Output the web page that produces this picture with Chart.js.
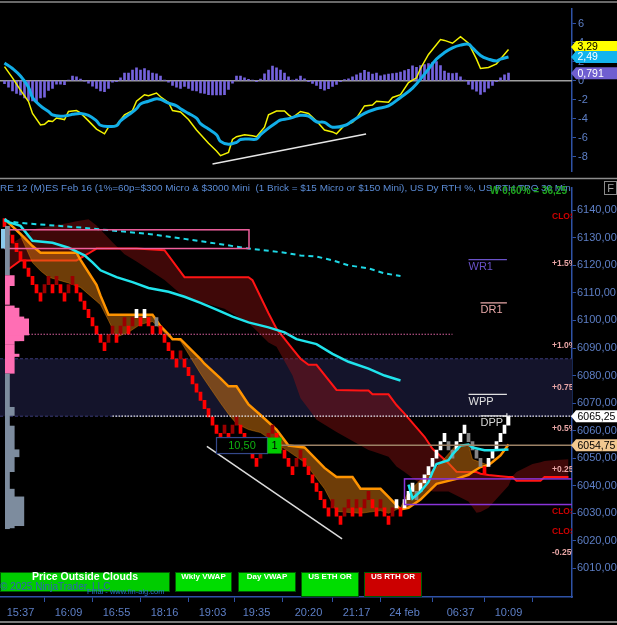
<!DOCTYPE html>
<html>
<head>
<meta charset="utf-8">
<script src="https://cdn.jsdelivr.net/npm/chart.js@4.4.0/dist/chart.umd.min.js"></script>
<style>
  html, body { margin: 0; padding: 0; background: #000; }
  #wrap { position: relative; width: 617px; height: 625px; background: #000; overflow: hidden; }
  canvas { position: absolute; left: 0; }
  #top { top: 0; }
  #bot { top: 180px; }
</style>
</head>
<body>
<div id="wrap">
  <canvas id="top" width="617" height="180"></canvas>
  <canvas id="bot" width="617" height="445"></canvas>
</div>
<script>
// ---- time axis ----
const xTickIdx = [4, 16, 28, 40, 52, 63, 76, 88, 100, 114, 126];
const xTickLabels = ['15:37', '16:09', '16:55', '18:16', '19:03', '19:35', '20:20', '21:17', '24 feb', '06:37', '10:09'];

// ---- oscillator panel ----
const macdIdx = [0,2,4,6,7,9,10,11,12,13,15,16,18,19,21,23,25,26,28,30,32,33,35,36,38,39,41,42,44,46,48,51,53,54,56,57,58,60,62,63,65,66,68,70,71,72,74,76,78,80,82,83,85,87,88,90,92,93,96,97,99,101,103,104,106,109,110,112,114,116,118,119,121,123,124,126];
const macdVal = [1.48,0.3,-1.0,-2.2,-3.45,-4.67,-4.6,-4.24,-4.3,-3.94,-4.1,-3.25,-3.15,-3.4,-4.24,-5.1,-5.6,-4.9,-4.7,-3.6,-3.15,-2.17,-1.48,-1.58,-1.3,-1.7,-2.3,-3.15,-3.3,-4.1,-5.2,-6.6,-7.4,-7.9,-7.55,-6.2,-5.9,-5.7,-5.8,-5.9,-4.9,-3.6,-3.2,-3.2,-3.6,-3.9,-3.25,-3.45,-4.24,-5.2,-5.4,-5.6,-4.7,-4.4,-3.94,-2.66,-2.56,-2.17,-2.27,-1.77,-1.48,-0.2,0.3,1.28,2.76,4.33,4.24,3.94,4.63,3.94,2.27,1.28,1.38,1.77,2.27,3.29];
const sigIdx = [0,2,4,6,7,9,11,12,14,16,17,19,21,23,24,26,28,29,31,33,34,36,38,39,41,43,44,46,48,49,51,53,54,56,58,59,61,63,64,66,68,69,71,73,74,76,78,80,82,85,87,90,93,96,99,102,105,108,110,112,114,116,117,119,121,123,124,126];
const sigVal = [1.87,1.28,0.49,-0.69,-1.77,-2.66,-3.25,-3.6,-3.74,-3.65,-3.55,-3.45,-3.65,-4.24,-4.7,-4.83,-4.75,-4.24,-3.6,-2.96,-2.46,-2.17,-1.9,-1.97,-2.36,-2.66,-2.96,-3.45,-3.94,-4.53,-5.1,-5.7,-6.4,-6.7,-6.5,-6.2,-6.15,-6.15,-5.7,-5.0,-4.4,-4.15,-4.0,-3.74,-3.65,-3.74,-4.33,-4.4,-4.9,-4.73,-4.24,-3.45,-2.96,-2.66,-1.77,-0.79,0.69,2.27,2.96,3.45,3.74,3.84,3.45,2.66,2.27,2.07,2.27,2.49];
const histVal = [
  -0.33,-0.69,-1.08,-1.35,-1.51,-1.81,-2.07,-2.13,-2.23,-1.81,
  -1.74,-1.02,-0.82,-0.36,-0.36,-0.43,0.05,0.49,0.39,0.16,
  -0.05,-0.26,-0.59,-0.82,-1.08,-1.15,-0.82,-0.16,-0.1,0.3,
  0.79,0.79,1.12,1.35,1.12,1.28,1.05,0.79,0.72,0.49,
  0.02,-0.16,-0.49,-0.69,-0.82,-0.62,-0.82,-1.02,-1.08,-1.28,
  -1.35,-1.48,-1.51,-1.51,-1.51,-1.48,-0.92,-0.26,0.49,0.49,
  0.3,0.13,0.07,-0.1,0.16,0.72,1.12,1.54,1.35,1.12,
  0.79,0.39,0.03,0.16,0.49,0.2,-0.1,-0.3,-0.5,-0.85,
  -1.0,-0.85,-0.6,-0.4,-0.1,0.1,0.2,0.4,0.6,0.8,
  1.1,0.9,0.7,0.8,0.5,0.6,0.7,0.75,0.8,0.9,
  1.05,1.2,1.55,1.4,1.6,1.7,1.8,1.9,2.0,1.6,
  1.0,0.8,0.75,0.8,0.4,0.02,-0.4,-0.9,-1.1,-1.45,
  -1.2,-0.8,-0.5,-0.1,0.3,0.6,0.791
];
const oscTrendIdx = [52, 90.4];
const oscTrendVal = [-8.77, -5.62];
const oscTicks = [-8, -6, -4, -2, 0, 2, 4, 6];

// ---- price panel ----
const BRICK = 3;
const brickLow = [
  6134,6131,6128,6125,6122,6119,6116,6113,6110,6107,
  6110,6113,6110,6113,6110,6107,6110,6113,6110,6107,
  6104,6101,6098,6095,6092,6089,6092,6095,6092,6095,
  6098,6095,6098,6101,6098,6101,6098,6095,6098,6095,
  6092,6089,6086,6083,6086,6083,6080,6077,6074,6071,
  6068,6065,6062,6059,6056,6059,6056,6059,6062,6059,
  6056,6053,6050,6047,6050,6053,6056,6059,6056,6053,
  6050,6047,6044,6047,6050,6047,6044,6041,6038,6035,
  6032,6029,6032,6029,6026,6029,6032,6029,6032,6029,
  6032,6035,6032,6029,6032,6029,6026,6029,6032,6029,
  6032,6035,6038,6035,6038,6041,6044,6047,6050,6053,
  6056,6053,6050,6053,6056,6059,6056,6053,6050,6047,
  6044,6047,6050,6053,6056,6059,6062
];
// D = down, u = up in downtrend, W = up in uptrend, g = down in uptrend
const brickKind =
  'DDDDDDDDDD' + 'uuDuDDuuDD' + 'DDDDDDuuDu' + 'uDuWDWDDgD' +
  'DDDDuDDDDD' + 'DDDDDuDuuD' + 'DDDDuuuuDD' + 'DDDuuDDDDD' +
  'DDuDDuuDuD' + 'uuDDuDDuWD' + 'WWWgWWWWWW' + 'WggWWWgggg' + 'DWWWWWW';

const cloudIdx = [0,4,7,9,11,16,18,19,23,24,26,28,31,34,37,39,41,42,44,49,50,54,56,58,61,64,68,71,75,80,83,87,89,94,96,99,101,104,108,113,116,117,119,121,122,124,126];
const cloudSlow = [6136.8,6131.4,6127,6124.6,6124.6,6124.6,6124.6,6122,6112.9,6109,6102.1,6102.1,6102.1,6102.1,6102.1,6097.9,6095,6093.2,6093.2,6086,6084.3,6079,6076.1,6076.1,6069.5,6065.7,6060.4,6054.6,6053.9,6046.5,6043.2,6043.2,6038.9,6038.9,6036,6031.4,6032,6035,6040.7,6042.5,6044,6045,6046.8,6047.5,6048.6,6051,6055];
const cloudFast = [6136.8,6130.7,6121,6118,6115.7,6113.6,6112.5,6112,6107,6105.7,6100,6094,6095.7,6098.6,6099.6,6097,6094,6093.5,6092.5,6080.7,6078.5,6070,6066,6062.5,6060.4,6059.3,6055.3,6052.5,6048.5,6038.9,6030.7,6030.2,6030,6031,6030,6032,6037.9,6042.1,6046.5,6055,6055,6049.6,6048.5,6047.5,6048.5,6051.1,6055];

const redIdx = [1,4,8,16,18,21,23,27,30,33,40,45,50,55,61,62,66,68,72,74,76,78,83,89,91,92,96,98,100,105,107,111,113,116,118,119,121,124,126,127,128,132,134,135,137,141];
const redLine = [6118.6,6121.8,6121.8,6121.8,6121.8,6124.3,6126.1,6126.1,6126.1,6126.1,6125.5,6115.7,6115.7,6115.7,6115.7,6114.6,6102.6,6097,6089.7,6086.1,6083.9,6083.9,6074.8,6074.6,6074.6,6073.2,6073.2,6069.3,6066.2,6057.8,6053.4,6048.2,6045.1,6045,6045,6044.4,6043.9,6043.5,6043.2,6043.2,6041.8,6041.8,6041.8,6043.2,6043.2,6043.2];
const redSpan = [6127,6130,6133.4,6135.4,6136,6136.7,6134.5,6128.4,6124,6121.4,6114.7,6108.4,6106.3,6104.2,6099,6097.7,6092,6090.5,6080,6071.8,6068,6064,6059.5,6054.6,6053,6052.5,6050.5,6047,6045,6039.6,6037.9,6037.9,6036.5,6034.3,6030.2,6030.5,6032,6036.8,6040,6043.5,6045,6047.9,6048.5,6049,6049.3,6049.6];

const vwapIdx = [0,1,4,7,12,16,20,22,24,28,32,36,41,45,49,53,57,61,66,70,73,78,82,86,91,95,99];
const vwapVal = [6136.8,6135.7,6134.3,6128.9,6128.2,6126.4,6123.6,6121.1,6118.2,6115.7,6113.9,6111.8,6110.4,6108.6,6106.4,6103.9,6101.4,6099.3,6097.5,6095.7,6093.2,6091.4,6087.9,6085,6082.5,6080,6078.2];
const wvwapIdx = [0,4,11,20,28,36,45,53,61,70,74,78,82,86,91,95,99];
const wvwapVal = [6136.1,6135.4,6134.6,6133.6,6132.5,6131.4,6129.6,6127.9,6126.1,6124.6,6123.6,6123.2,6121.8,6120,6118.9,6117.1,6116.1];
const dvwapIdx = [101,102,104,106,107,108,111,112,114,116,117,120,122,126];
const dvwapVal = [6040.4,6035.4,6037.9,6041.4,6045,6047.9,6049.3,6051.4,6054.6,6055,6053.9,6052.9,6052.9,6053.2];

const trendIdx = [50.6, 84.4];
const trendVal = [6054.3, 6020.7];

const priceTicks = [6010,6020,6030,6040,6050,6060,6070,6080,6090,6100,6110,6120,6130,6140];
const lastPrice = 6065.25;
const tanPrice = 6054.75;
const bandZone = [6065.25, 6086.1];
const pinkZone = [6126.1, 6132.9];
const pinkZoneBars = [0, 61];
const purpleZone = [6033.2, 6042.5];
const purpleZoneFrom = 100;
const pinkDotPrice = 6095;
const pinkDotBars = [6, 112];

const pivotNames = ['WR1', 'DR1', 'WPP', 'DPP'];
const pivotPrices = [6122.1, 6106.4, 6073.2, 6065.4];
const levelText = ['CLOS', '+1.5%', '+1.0%', '+0.75', '+0.5%', '+0.25', 'CLOS', 'CLOS', '-0.25%'];
const levelPrice = [6137, 6120, 6090, 6075, 6060, 6045, 6030, 6022.5, 6015];

const profileTop    = [6134.3,6116.4,6112.5,6105.4,6104.6,6101.4,6100.7,6091.4,6087.9,6080.7,6068.6,6061.8,6053.2,6038.9,6036.1,6133.2];
const profileBottom = [6116.4,6112.5,6105.7,6091.4,6092.5,6092.5,6094.6,6080.7,6086.8,6024.3,6065.4,6045,6050.4,6024.6,6025.4,6126.1];
const profileCount  = [1,2,1,2,3,4,5,2,3,1,2,2,3,2,4,1];
const profileKind   = 'gppppppppggggggb';

const measureVal = '10,50';
const measureCount = '1';
const measureAt = [53, 6054.6];

// ---- styles ----
const AXIS_COL = '#2f52a6';
const TICK_COL = '#5d7fc6';
const X_MIN = -1.125, X_MAX = 141.875;
const pts = (xs, ys) => xs.map((x, i) => ({ x: x, y: ys[i] }));
const fmt = (v, d) => v.toFixed(d).replace('.', ',');

function hline(ctx, x0, x1, y) {
  ctx.beginPath(); ctx.moveTo(x0, y); ctx.lineTo(x1, y); ctx.stroke();
}

function flag(ctx, yc, text, bg, fg) {
  const hh = 6;
  ctx.beginPath();
  ctx.moveTo(571, yc); ctx.lineTo(576, yc - hh); ctx.lineTo(617, yc - hh);
  ctx.lineTo(617, yc + hh); ctx.lineTo(576, yc + hh); ctx.closePath();
  ctx.fillStyle = bg; ctx.fill();
  ctx.fillStyle = fg; ctx.font = '10.5px Arial';
  ctx.textAlign = 'left'; ctx.textBaseline = 'middle';
  ctx.fillText(text, 577.5, yc + 0.5);
}

const topDecor = {
  id: 'topDecor',
  beforeDatasetsDraw(chart) {
    const { ctx, chartArea: a, scales: { y } } = chart;
    ctx.save();
    ctx.strokeStyle = '#a0a0a0'; ctx.lineWidth = 1.5;
    hline(ctx, a.left, a.right, y.getPixelForValue(0));
    ctx.restore();
  },
  afterDraw(chart) {
    const { ctx, scales: { y } } = chart;
    ctx.save();
    ctx.strokeStyle = '#8c8c8c'; ctx.lineWidth = 1.5;
    hline(ctx, 0, 617, 2);
    hline(ctx, 0, 617, 178.5);
    const ySig = y.getPixelForValue(sigVal[sigVal.length - 1]);
    let yMacd = y.getPixelForValue(macdVal[macdVal.length - 1]);
    if (Math.abs(yMacd - ySig) < 11) yMacd = ySig - 10;
    flag(ctx, yMacd, fmt(macdVal[macdVal.length - 1], 2), '#ffff00', '#000');
    flag(ctx, ySig, fmt(sigVal[sigVal.length - 1], 2), '#12b4ee', '#fff');
    flag(ctx, y.getPixelForValue(histVal[histVal.length - 1]), fmt(histVal[histVal.length - 1], 3), '#6f5fd0', '#fff');
    ctx.restore();
  }
};

const botDecor = {
  id: 'botDecor',
  beforeDatasetsDraw(chart) {
    const { ctx, chartArea: a, scales: { y } } = chart;
    const yt = y.getPixelForValue(bandZone[1]), yb = y.getPixelForValue(bandZone[0]);
    ctx.save();
    ctx.fillStyle = '#14142b';
    ctx.fillRect(a.left, yt, a.right - a.left, yb - yt);
    ctx.strokeStyle = '#3a3a78'; ctx.lineWidth = 1; ctx.setLineDash([3, 2]);
    hline(ctx, a.left, a.right, yt);
    hline(ctx, a.left, a.right, yb);
    ctx.restore();
  },
  afterDatasetsDraw(chart) {
    const { ctx, chartArea: a, scales: { x, y } } = chart;
    const px = v => x.getPixelForValue(v), py = v => y.getPixelForValue(v);
    ctx.save();
    ctx.beginPath(); ctx.rect(a.left, a.top, a.right - a.left, a.bottom - a.top); ctx.clip();

    // pink zone box
    ctx.strokeStyle = '#f0609e'; ctx.lineWidth = 1.5;
    ctx.strokeRect(px(pinkZoneBars[0]) + 0.5, py(pinkZone[1]), px(pinkZoneBars[1]) - px(pinkZoneBars[0]), py(pinkZone[0]) - py(pinkZone[1]));
    // purple zone box
    ctx.strokeStyle = '#8a34d8';
    ctx.strokeRect(px(purpleZoneFrom), py(purpleZone[1]), a.right - px(purpleZoneFrom) + 4, py(purpleZone[0]) - py(purpleZone[1]));
    // pink dotted level
    ctx.strokeStyle = '#d8609e'; ctx.lineWidth = 1.2; ctx.setLineDash([1.5, 1.5]);
    hline(ctx, px(pinkDotBars[0]), px(pinkDotBars[1]), py(pinkDotPrice));
    // last price dotted
    ctx.strokeStyle = '#e8e8e8'; ctx.setLineDash([1.5, 1.5]);
    hline(ctx, px(27), a.right, py(lastPrice));
    ctx.setLineDash([]);
    // tan level
    ctx.strokeStyle = '#9c8266'; ctx.lineWidth = 1.5;
    hline(ctx, px(measureAt[0]), a.right, py(tanPrice));
    // current price cross
    ctx.strokeStyle = '#fff'; ctx.lineWidth = 1;
    ctx.beginPath(); ctx.moveTo(px(125.6), py(lastPrice) - 3); ctx.lineTo(px(125.6), py(lastPrice) + 9); ctx.stroke();
    hline(ctx, px(124.6), px(126.6), py(lastPrice));

    // volume profile
    profileTop.forEach((t, k) => {
      const kind = profileKind[k];
      const y1 = py(t), y2 = py(profileBottom[k]);
      ctx.fillStyle = kind === 'p' ? '#ff6eb4' : kind === 'b' ? '#8ccbee' : '#7d8c9e';
      if (kind === 'b') ctx.fillRect(1, y1, 4, y2 - y1);
      else ctx.fillRect(5, y1, profileCount[k] * 4.8, y2 - y1);
    });

    // pivots
    const pivStyle = { WR1: ['#6a52c8', 116], DR1: ['#e8a8a8', 119], WPP: ['#e0e0e0', 116], DPP: ['#d8d8d8', 119] };
    pivotNames.forEach((n, k) => {
      const [col, from] = pivStyle[n];
      const yy = py(pivotPrices[k]);
      ctx.strokeStyle = col; ctx.lineWidth = 1.2;
      hline(ctx, px(from), px(125.6), yy);
      ctx.fillStyle = col; ctx.font = '11px Arial';
      ctx.textAlign = 'left'; ctx.textBaseline = 'top';
      ctx.fillText(n, px(from), yy + 2);
    });

    // percentage levels (clipped at axis)
    ctx.font = 'bold 8.5px Arial'; ctx.textBaseline = 'middle';
    levelText.forEach((t, k) => {
      ctx.fillStyle = t === 'CLOS' ? '#cc0000' : '#e8a6a6';
      ctx.fillText(t, 552, py(levelPrice[k]) - 2);
    });

    // measure box
    const mx = px(measureAt[0]), my = py(measureAt[1]);
    ctx.fillStyle = '#000'; ctx.fillRect(mx, my - 8, 51, 16);
    ctx.strokeStyle = '#34488a'; ctx.lineWidth = 1.2; ctx.strokeRect(mx, my - 8, 51, 16);
    ctx.fillStyle = '#00cc00'; ctx.fillRect(mx + 51, my - 8, 14, 16);
    ctx.font = '11px Arial'; ctx.textAlign = 'center'; ctx.textBaseline = 'middle';
    ctx.fillStyle = '#10b010'; ctx.fillText(measureVal, mx + 25.5, my + 0.5);
    ctx.fillStyle = '#000'; ctx.fillText(measureCount, mx + 58, my + 0.5);
    ctx.restore();
  },
  afterDraw(chart) {
    const { ctx, scales: { y } } = chart;
    ctx.save();
    // title
    ctx.beginPath(); ctx.rect(0, 0, 571, 22); ctx.clip();
    const title = 'RE 12 (M)ES Feb 16 (1%=60p=$300 Micro & $3000 Mini  (1 Brick = $15 Micro or $150 Mini), US Dy RTH %, US RTH TPO 30 Min';
    ctx.font = '10px Arial';
    const w = ctx.measureText(title.slice(0, -1)).width;
    ctx.font = (10 * 566 / w).toFixed(2) + 'px Arial';
    ctx.fillStyle = '#5b8cd6'; ctx.textAlign = 'left'; ctx.textBaseline = 'middle';
    ctx.fillText(title, 0, 8);
    ctx.font = 'bold 10px Arial'; ctx.fillStyle = '#1fa61f';
    ctx.fillText('W 0,60% = 36,25', 490, 11);
    ctx.restore();

    ctx.save();
    // F button
    ctx.strokeStyle = '#8a8a8a'; ctx.lineWidth = 1; ctx.strokeRect(604.5, 1.5, 12, 13);
    ctx.fillStyle = '#a0a0a0'; ctx.font = '11px Arial'; ctx.textAlign = 'center'; ctx.textBaseline = 'middle';
    ctx.fillText('F', 610.5, 8.5);
    // price flags
    flag(ctx, y.getPixelForValue(lastPrice), fmt(lastPrice, 2), '#ffffff', '#000');
    flag(ctx, y.getPixelForValue(tanPrice), fmt(tanPrice, 2), '#f2c890', '#000');

    // indicator buttons
    const btns = [
      ['Price Outside Clouds', 0, 170, 20, '#00cc00', 'bold 10.5px Arial'],
      ['Wkly VWAP', 175, 232, 20, '#00dd00', 'bold 8px Arial'],
      ['Day VWAP', 238, 296, 20, '#00dd00', 'bold 8px Arial'],
      ['US ETH OR', 301, 359, 25, '#00dd00', 'bold 8px Arial'],
      ['US RTH OR', 364, 422, 25, '#cc0000', 'bold 8px Arial']
    ];
    btns.forEach(([t, x0, x1, h, col, font]) => {
      ctx.fillStyle = col; ctx.fillRect(x0, 392, x1 - x0, h);
      ctx.strokeStyle = '#005a00'; ctx.lineWidth = 1; ctx.strokeRect(x0 + 0.5, 392.5, x1 - x0 - 1, h - 1);
      ctx.fillStyle = '#fff'; ctx.font = font; ctx.textAlign = 'center'; ctx.textBaseline = 'middle';
      ctx.fillText(t, (x0 + x1) / 2, 397);
    });
    ctx.textAlign = 'left';
    ctx.fillStyle = '#2f62b0'; ctx.font = '10px Arial';
    ctx.fillText('\u00a9 2025 NinjaTrader, LLC', 0, 407);
    ctx.fillStyle = '#2a72c4'; ctx.font = '7.5px Arial';
    ctx.fillText('Final - www.fin-alg.com', 87, 412);
    // window border
    ctx.strokeStyle = '#7a7a7a'; ctx.lineWidth = 2;
    hline(ctx, 0, 617, 442);
    ctx.restore();
  }
};

const lineDs = (data, color, width, order, extra) => Object.assign({
  type: 'line', data: data, borderColor: color, borderWidth: width,
  pointRadius: 0, tension: 0, fill: false, order: order
}, extra || {});

new Chart(document.getElementById('top'), {
  type: 'line',
  data: {
    datasets: [
      lineDs(pts(sigIdx, sigVal), '#12aee8', 3, 2, { tension: 0.4 }),
      lineDs(pts(macdIdx, macdVal), '#f2f200', 1.5, 3),
      lineDs(pts(oscTrendIdx, oscTrendVal), '#e6e6e6', 1.5, 1),
      { type: 'bar', data: histVal.map((v, i) => ({ x: i, y: v })), backgroundColor: '#7462dc', barThickness: 2, order: 6 }
    ]
  },
  options: {
    responsive: false, animation: false, events: [],
    layout: { padding: { top: 3, bottom: 3, left: 0, right: 0 } },
    plugins: { legend: { display: false }, tooltip: { enabled: false } },
    scales: {
      x: { type: 'linear', min: X_MIN, max: X_MAX, offset: false, display: false },
      y: {
        position: 'right', min: -9.56, max: 7.59,
        afterFit(s) { s.width = 45; },
        afterBuildTicks(s) { s.ticks = oscTicks.map(v => ({ value: v })); },
        grid: { drawOnChartArea: false, color: AXIS_COL, tickLength: 4 },
        border: { color: AXIS_COL, width: 1.5 },
        ticks: { color: TICK_COL, font: { family: 'Arial', size: 11 }, padding: 2 }
      }
    }
  },
  plugins: [topDecor]
});

const brickColor = { D: '#ff0000', u: '#9a0000', W: '#ffffff', g: '#858585' };

new Chart(document.getElementById('bot'), {
  type: 'line',
  data: {
    datasets: [
      lineDs(pts(redIdx, redLine), '#ff1414', 2, 9),
      lineDs(pts(redIdx, redSpan), 'rgba(0,0,0,0)', 0, 10, { fill: 0, backgroundColor: 'rgba(150,18,18,0.42)' }),
      lineDs(pts(cloudIdx, cloudSlow), '#ff9400', 2.5, 7),
      lineDs(pts(cloudIdx, cloudFast), 'rgba(255,148,0,0.35)', 1, 8, { fill: 2, backgroundColor: 'rgba(220,122,16,0.5)' }),
      {
        type: 'bar', order: 5, barThickness: 3, borderWidth: 0,
        data: brickLow.map((lo, i) => ({ x: i, y: [lo, lo + BRICK] })),
        backgroundColor: brickLow.map((lo, i) => brickColor[brickKind[i]])
      },
      lineDs(pts(wvwapIdx, wvwapVal), '#1ed8e6', 2, 3, { borderDash: [5, 4] }),
      lineDs(pts(vwapIdx, vwapVal), '#20e4ec', 2.5, 2),
      lineDs(pts(dvwapIdx, dvwapVal), '#20e4ec', 2.5, 2),
      lineDs(pts(trendIdx, trendVal), '#dcdcdc', 1.5, 1)
    ]
  },
  options: {
    responsive: false, animation: false, events: [],
    layout: { padding: { top: 1, bottom: 0, left: 0, right: 0 } },
    plugins: { legend: { display: false }, tooltip: { enabled: false } },
    scales: {
      x: {
        type: 'linear', min: X_MIN, max: X_MAX, offset: false,
        afterFit(s) { s.height = 28; },
        afterBuildTicks(s) { s.ticks = xTickIdx.map(v => ({ value: v })); },
        grid: { drawOnChartArea: false, color: AXIS_COL, tickLength: 5 },
        border: { color: AXIS_COL, width: 1.5 },
        ticks: {
          autoSkip: false, maxRotation: 0, padding: 4, color: TICK_COL,
          font: { family: 'Arial', size: 11 },
          callback: v => xTickLabels[xTickIdx.indexOf(v)]
        }
      },
      y: {
        position: 'right', min: 5999.64, max: 6148.21,
        afterFit(s) { s.width = 45; },
        afterBuildTicks(s) { s.ticks = priceTicks.map(v => ({ value: v })); },
        grid: { drawOnChartArea: false, color: AXIS_COL, tickLength: 4 },
        border: { color: AXIS_COL, width: 1.5 },
        ticks: { color: TICK_COL, font: { family: 'Arial', size: 11 }, padding: 1, callback: v => fmt(v, 2) }
      }
    }
  },
  plugins: [botDecor]
});
</script>
</body>
</html>
